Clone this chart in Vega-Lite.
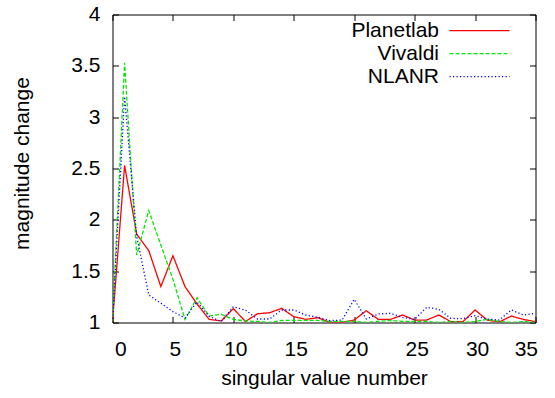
{
  "$schema": "https://vega.github.io/schema/vega-lite/v6.json",
  "width": 423,
  "height": 308,
  "autosize": {"type": "none"},
  "padding": {"left": 112.5, "top": 14.5, "right": 19.5, "bottom": 75.5},
  "data": {
    "values": [
      {"n": 0, "series": "Planetlab", "value": 1.0},
      {"n": 1, "series": "Planetlab", "value": 2.53},
      {"n": 2, "series": "Planetlab", "value": 1.86},
      {"n": 3, "series": "Planetlab", "value": 1.70},
      {"n": 4, "series": "Planetlab", "value": 1.35},
      {"n": 5, "series": "Planetlab", "value": 1.65},
      {"n": 6, "series": "Planetlab", "value": 1.35},
      {"n": 7, "series": "Planetlab", "value": 1.18},
      {"n": 8, "series": "Planetlab", "value": 1.03},
      {"n": 9, "series": "Planetlab", "value": 1.015},
      {"n": 10, "series": "Planetlab", "value": 1.135},
      {"n": 11, "series": "Planetlab", "value": 1.01},
      {"n": 12, "series": "Planetlab", "value": 1.085},
      {"n": 13, "series": "Planetlab", "value": 1.095},
      {"n": 14, "series": "Planetlab", "value": 1.138},
      {"n": 15, "series": "Planetlab", "value": 1.057},
      {"n": 16, "series": "Planetlab", "value": 1.031},
      {"n": 17, "series": "Planetlab", "value": 1.047},
      {"n": 18, "series": "Planetlab", "value": 1.0},
      {"n": 19, "series": "Planetlab", "value": 1.0},
      {"n": 20, "series": "Planetlab", "value": 1.024},
      {"n": 21, "series": "Planetlab", "value": 1.115},
      {"n": 22, "series": "Planetlab", "value": 1.03},
      {"n": 23, "series": "Planetlab", "value": 1.03},
      {"n": 24, "series": "Planetlab", "value": 1.073},
      {"n": 25, "series": "Planetlab", "value": 1.024},
      {"n": 26, "series": "Planetlab", "value": 1.024},
      {"n": 27, "series": "Planetlab", "value": 1.073},
      {"n": 28, "series": "Planetlab", "value": 1.008},
      {"n": 29, "series": "Planetlab", "value": 1.008},
      {"n": 30, "series": "Planetlab", "value": 1.122},
      {"n": 31, "series": "Planetlab", "value": 1.024},
      {"n": 32, "series": "Planetlab", "value": 1.005},
      {"n": 33, "series": "Planetlab", "value": 1.063},
      {"n": 34, "series": "Planetlab", "value": 1.03},
      {"n": 35, "series": "Planetlab", "value": 1.008},
      {"n": 0, "series": "Vivaldi", "value": 1.0},
      {"n": 1, "series": "Vivaldi", "value": 3.53},
      {"n": 2, "series": "Vivaldi", "value": 1.657},
      {"n": 3, "series": "Vivaldi", "value": 2.09},
      {"n": 4, "series": "Vivaldi", "value": 1.755},
      {"n": 5, "series": "Vivaldi", "value": 1.42},
      {"n": 6, "series": "Vivaldi", "value": 1.03},
      {"n": 7, "series": "Vivaldi", "value": 1.24},
      {"n": 8, "series": "Vivaldi", "value": 1.063},
      {"n": 9, "series": "Vivaldi", "value": 1.08},
      {"n": 10, "series": "Vivaldi", "value": 1.03},
      {"n": 11, "series": "Vivaldi", "value": 1.015},
      {"n": 12, "series": "Vivaldi", "value": 1.01},
      {"n": 13, "series": "Vivaldi", "value": 1.0},
      {"n": 14, "series": "Vivaldi", "value": 1.02},
      {"n": 15, "series": "Vivaldi", "value": 1.02},
      {"n": 16, "series": "Vivaldi", "value": 1.02},
      {"n": 17, "series": "Vivaldi", "value": 1.02},
      {"n": 18, "series": "Vivaldi", "value": 1.01},
      {"n": 19, "series": "Vivaldi", "value": 1.01},
      {"n": 20, "series": "Vivaldi", "value": 1.01},
      {"n": 21, "series": "Vivaldi", "value": 1.0},
      {"n": 22, "series": "Vivaldi", "value": 1.01},
      {"n": 23, "series": "Vivaldi", "value": 1.02},
      {"n": 24, "series": "Vivaldi", "value": 1.01},
      {"n": 25, "series": "Vivaldi", "value": 1.01},
      {"n": 26, "series": "Vivaldi", "value": 1.01},
      {"n": 27, "series": "Vivaldi", "value": 1.0},
      {"n": 28, "series": "Vivaldi", "value": 1.01},
      {"n": 29, "series": "Vivaldi", "value": 1.0},
      {"n": 30, "series": "Vivaldi", "value": 1.01},
      {"n": 31, "series": "Vivaldi", "value": 1.03},
      {"n": 32, "series": "Vivaldi", "value": 1.01},
      {"n": 33, "series": "Vivaldi", "value": 1.0},
      {"n": 34, "series": "Vivaldi", "value": 1.01},
      {"n": 35, "series": "Vivaldi", "value": 1.0},
      {"n": 0, "series": "NLANR", "value": 1.0},
      {"n": 1, "series": "NLANR", "value": 3.2},
      {"n": 2, "series": "NLANR", "value": 1.84},
      {"n": 3, "series": "NLANR", "value": 1.268},
      {"n": 4, "series": "NLANR", "value": 1.187},
      {"n": 5, "series": "NLANR", "value": 1.105},
      {"n": 6, "series": "NLANR", "value": 1.045},
      {"n": 7, "series": "NLANR", "value": 1.2},
      {"n": 8, "series": "NLANR", "value": 1.06},
      {"n": 9, "series": "NLANR", "value": 1.01},
      {"n": 10, "series": "NLANR", "value": 1.154},
      {"n": 11, "series": "NLANR", "value": 1.12},
      {"n": 12, "series": "NLANR", "value": 1.034},
      {"n": 13, "series": "NLANR", "value": 1.034},
      {"n": 14, "series": "NLANR", "value": 1.122},
      {"n": 15, "series": "NLANR", "value": 1.122},
      {"n": 16, "series": "NLANR", "value": 1.073},
      {"n": 17, "series": "NLANR", "value": 1.05},
      {"n": 18, "series": "NLANR", "value": 1.018},
      {"n": 19, "series": "NLANR", "value": 1.024},
      {"n": 20, "series": "NLANR", "value": 1.226},
      {"n": 21, "series": "NLANR", "value": 1.034},
      {"n": 22, "series": "NLANR", "value": 1.083},
      {"n": 23, "series": "NLANR", "value": 1.09},
      {"n": 24, "series": "NLANR", "value": 1.05},
      {"n": 25, "series": "NLANR", "value": 1.03},
      {"n": 26, "series": "NLANR", "value": 1.148},
      {"n": 27, "series": "NLANR", "value": 1.128},
      {"n": 28, "series": "NLANR", "value": 1.04},
      {"n": 29, "series": "NLANR", "value": 1.037},
      {"n": 30, "series": "NLANR", "value": 1.067},
      {"n": 31, "series": "NLANR", "value": 1.034},
      {"n": 32, "series": "NLANR", "value": 1.024},
      {"n": 33, "series": "NLANR", "value": 1.122},
      {"n": 34, "series": "NLANR", "value": 1.073},
      {"n": 35, "series": "NLANR", "value": 1.09}
    ]
  },
  "layer": [
    {
      "mark": {"type": "line", "strokeWidth": 1.3, "clip": true},
      "encoding": {
        "x": {
          "field": "n",
          "type": "quantitative",
          "scale": {"domain": [0, 35], "nice": false, "zero": false},
          "axis": {
            "orient": "bottom",
            "title": "singular value number",
            "values": [0, 5, 10, 15, 20, 25, 30, 35],
            "tickSize": -6,
            "labelPadding": 22,
            "labelBaseline": "top",
            "labelOffset": 2,
            "titleY": 61.5,
            "titleBaseline": "alphabetic"
          }
        },
        "y": {
          "field": "value",
          "type": "quantitative",
          "scale": {"domain": [1, 4], "nice": false, "zero": false},
          "axis": {
            "orient": "left",
            "title": "magnitude change",
            "values": [1, 1.5, 2, 2.5, 3, 3.5, 4],
            "format": "~g",
            "tickSize": -6,
            "labelPadding": 18.5,
            "labelBaseline": "middle",
            "titleAngle": -90,
            "titleX": -84,
            "titleY": 148.5,
            "titleAlign": "center",
            "titleBaseline": "alphabetic"
          }
        },
        "color": {
          "field": "series",
          "type": "nominal",
          "scale": {
            "domain": ["Planetlab", "Vivaldi", "NLANR"],
            "range": ["#ff0000", "#00e800", "#0000ff"]
          },
          "legend": {
            "title": null,
            "orient": "none",
            "legendX": 356.5,
            "legendY": 5.7,
            "padding": 0,
            "symbolType": "M-6,0H6",
            "symbolSize": 100,
            "symbolStrokeWidth": 1.3,
            "labelAlign": "right",
            "labelOffset": -51,
            "labelBaseline": "middle",
            "labelFontSize": 21,
            "labelFont": "Liberation Sans",
            "labelColor": "black",
            "rowPadding": 1
          }
        },
        "strokeDash": {
          "field": "series",
          "type": "nominal",
          "scale": {
            "domain": ["Planetlab", "Vivaldi", "NLANR"],
            "range": [[1, 0], [4, 2], [1.2, 2.3]]
          },
          "legend": {
            "title": null,
            "orient": "none",
            "legendX": 356.5,
            "legendY": 5.7,
            "padding": 0,
            "symbolType": "M-6,0H6",
            "symbolSize": 100,
            "symbolStrokeWidth": 1.3,
            "labelAlign": "right",
            "labelOffset": -51,
            "labelBaseline": "middle",
            "labelFontSize": 21,
            "labelFont": "Liberation Sans",
            "labelColor": "black",
            "rowPadding": 1
          }
        }
      }
    },
    {
      "mark": {"type": "line", "opacity": 0},
      "encoding": {
        "x": {
          "field": "n",
          "type": "quantitative",
          "axis": {
            "orient": "top",
            "title": null,
            "labels": false,
            "values": [0, 5, 10, 15, 20, 25, 30, 35],
            "tickSize": -6
          }
        },
        "y": {
          "field": "value",
          "type": "quantitative",
          "axis": {
            "orient": "right",
            "title": null,
            "labels": false,
            "values": [1, 1.5, 2, 2.5, 3, 3.5, 4],
            "tickSize": -6
          }
        },
        "detail": {"field": "series"}
      }
    }
  ],
  "resolve": {"axis": {"x": "independent", "y": "independent"}},
  "config": {
    "view": {"stroke": "black", "strokeWidth": 1},
    "axis": {
      "domain": false,
      "grid": false,
      "tickColor": "black",
      "tickWidth": 1,
      "labelFont": "Liberation Sans",
      "labelFontSize": 21,
      "labelColor": "black",
      "titleFont": "Liberation Sans",
      "titleFontSize": 21,
      "titleFontWeight": "normal",
      "titleColor": "black"
    }
  }
}
